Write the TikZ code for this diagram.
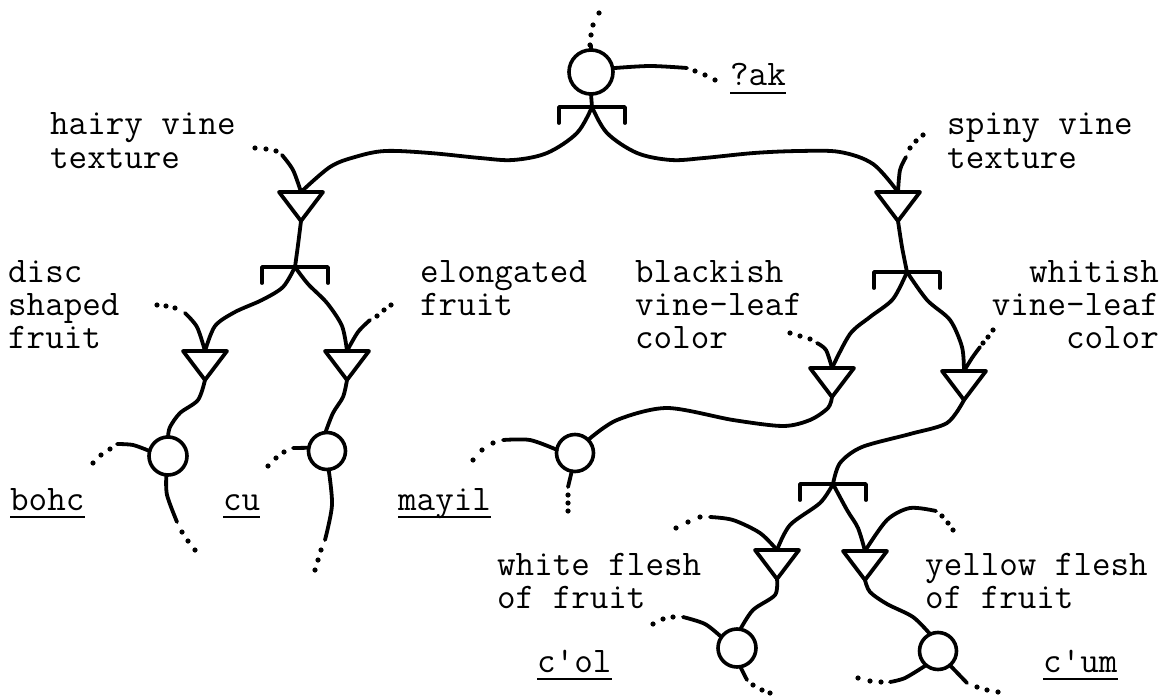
\documentclass[tikz,border=0pt]{standalone}
\usepackage{fontspec}
\newcommand\mktri[3]{%
  \coordinate (#1) at (#2,#3);
  \coordinate (#1a) at (#2,#3+29);
  \draw[ln] (#2-22,#3) -- (#2+22,#3) -- (#1a) -- cycle;
}
\newcommand\mkbr[3]{%
  \coordinate (#1) at (#2,#3);
  \draw[ln] (#2-33,#3+16) -- (#2-33,#3) -- (#2+33,#3) -- (#2+33,#3+16);
}
\newcommand\dts[1]{\foreach \dx/\dy in {#1} {\fill (\dx,\dy) circle (2.6pt);}}
\tikzset{
  ln/.style={line width=3.8pt, line cap=round, line join=round},
  circ/.style={circle, draw, line width=3.6pt, inner sep=0pt, outer sep=0pt},
  lbl/.style={anchor=base west, inner sep=0pt, font=\fontsize{36pt}{33pt}\selectfont\ttfamily\addfontfeature{FakeBold=0.6}},
  lblr/.style={lbl, anchor=base east},
  ul/.style={line width=2.6pt},
}
\begin{document}
\begin{tikzpicture}[x=1pt, y=-1pt]
\useasboundingbox (0,0) rectangle (1167,698);

% circles
\node[circ, minimum size=44pt] (c0) at (591,72) {};
\node[circ, minimum size=38pt] (c1) at (168,456) {};
\node[circ, minimum size=37pt] (c2) at (327,451) {};
\node[circ, minimum size=37pt] (c3) at (575,453) {};
\node[circ, minimum size=38pt] (c4) at (737,648) {};
\node[circ, minimum size=37pt] (c5) at (938,651) {};

% triangles
\mktri{t1}{301}{192}
\mktri{t2}{898}{192}
\mktri{t3}{205}{351}
\mktri{t4}{347}{351}
\mktri{t5}{832}{368}
\mktri{t6}{964}{371}
\mktri{t7}{777}{550}
\mktri{t8}{865}{551}

% brackets
\mkbr{b0}{592}{107}
\mkbr{b1}{295}{267}
\mkbr{b2}{907}{272}
\mkbr{b3}{833}{484}

% labels
\node[lbl] (ak) at (730,86) {?ak};
\node[lbl] (hv1) at (50,135) {hairy vine};
\node[lbl] (hv2) at (50,168) {texture};
\node[lbl] (sv1) at (947,135) {spiny vine};
\node[lbl] (sv2) at (947,168) {texture};
\node[lbl] (ds1) at (8,282) {disc};
\node[lbl] (ds2) at (8,315) {shaped};
\node[lbl] (ds3) at (8,348) {fruit};
\node[lbl] (el1) at (420,282) {elongated};
\node[lbl] (el2) at (420,315) {fruit};
\node[lbl] (bk1) at (635,282) {blackish};
\node[lbl] (bk2) at (635,315) {vine-leaf};
\node[lbl] (bk3) at (635,348) {color};
\node[lblr] (wh1) at (1159,282) {whitish};
\node[lblr] (wh2) at (1159,315) {vine-leaf};
\node[lblr] (wh3) at (1159,348) {color};
\node[lbl] (bohc) at (10,510) {bohc};
\node[lbl] (cu) at (223,510) {cu};
\node[lbl] (mayil) at (398,510) {mayil};
\node[lbl] (wf1) at (497,575) {white flesh};
\node[lbl] (wf2) at (497,608) {of fruit};
\node[lbl] (yf1) at (925,575) {yellow flesh};
\node[lbl] (yf2) at (925,608) {of fruit};
\node[lbl] (col) at (537,672) {c\textquotesingle ol};
\node[lbl] (cum) at (1043,672) {c\textquotesingle um};

% underlines
\foreach \n in {ak,bohc,cu,mayil,col,cum}
  \draw[ul] ([yshift=-7pt]\n.base west) -- ([yshift=-7pt]\n.base east);

% top of root
\draw[ln] (c0.north) -- ++(0,-4);
\dts{590/45, 591/35, 593/25, 599/13}
\draw[ln] plot[smooth] coordinates {(c0.10) (650,66) (687,68)};
\dts{695/71, 705/75, 715/80}
\draw[ln] (c0.south) -- (b0);

% main branches
\draw[ln] plot[smooth, tension=0.55] coordinates {(b0) (577,133) (547,153) (513,160) (480,158) (430,153) (385,151) (355,157) (330,167) (t1)};
\draw[ln] plot[smooth, tension=0.55] coordinates {(b0) (607,133) (637,153) (671,160) (704,158) (754,153) (799,151) (840,152) (873,164) (t2)};

% stubs of t1, t2
\draw[ln] plot[smooth] coordinates {(t1) (293,170) (282,155)};
\dts{276/151, 266/149, 255/148}
\draw[ln] plot[smooth] coordinates {(t2) (900,170) (906,157)};
\dts{910/148, 916/141, 923/135}

% left subtree
\draw[ln] plot[smooth] coordinates {(t1a) (298,245) (b1)};
\draw[ln] plot[smooth] coordinates {(b1) (283,287) (262,300) (235,312) (215,326) (t3)};
\draw[ln] plot[smooth] coordinates {(b1) (308,284) (327,303) (342,326) (t4)};
\draw[ln] plot[smooth] coordinates {(t3) (197,327) (185,313)};
\dts{175/308, 166/306, 157/305}
\draw[ln] plot[smooth] coordinates {(t4) (358,332) (370,320)};
\dts{377/316, 384/310, 391/305}
\draw[ln] plot[smooth] coordinates {(t3a) (198,400) (180,413) (170,427) (c1.north)};
\draw[ln] plot[smooth] coordinates {(t4a) (343,397) (333,413) (c2.95)};
\draw[ln] plot[smooth] coordinates {(c1.165) (133,445) (117,444)};
\dts{110/449, 101/455, 93/463}
\draw[ln] plot[smooth] coordinates {(c1.265) (167,495) (177,522)};
\dts{182/532, 188/541, 195/550}
\draw[ln] (c2.170) -- (293,448);
\dts{284/452, 276/458, 268/466}
\draw[ln] plot[smooth] coordinates {(c2.275) (332,505) (325,540)};
\dts{321/550, 318/560, 315/570}

% right subtree
\draw[ln] plot[smooth] coordinates {(t2a) (902,247) (b2)};
\draw[ln] plot[smooth] coordinates {(b2) (893,299) (870,317) (850,334) (t5)};
\draw[ln] plot[smooth] coordinates {(b2) (927,300) (950,320) (962,347) (t6)};
\draw[ln] plot[smooth] coordinates {(t5) (826,350) (817,343)};
\dts{810/339, 800/336, 790/333}
\draw[ln] plot[smooth] coordinates {(t6) (972,358) (980,347)};
\dts{983/343, 988/337, 993/330}
\draw[ln] plot[smooth] coordinates {(t5a) (828,408) (810,420) (783,426) (733,420) (667,408) (617,420) (c3.45)};
\draw[ln] plot[smooth] coordinates {(c3.170) (530,440) (503,440)};
\dts{493/443, 482/450, 473/460}
\draw[ln] (c3.260) -- (568,487);
\dts{568/495, 568/503, 568/511}
\draw[ln] plot[smooth] coordinates {(t6a) (947,423) (910,434) (862,447) (840,463) (b3)};
\draw[ln] plot[smooth] coordinates {(b3) (820,503) (790,525) (t7)};
\draw[ln] plot[smooth] coordinates {(b3) (847,510) (858,528) (t8)};
\draw[ln] plot[smooth] coordinates {(t7) (760,533) (733,520) (710,517)};
\dts{700/517, 688/522, 676/528}
\draw[ln] plot[smooth] coordinates {(t8) (887,520) (910,508) (936,511)};
\dts{942/516, 948/523, 953/530}
\draw[ln] plot[smooth] coordinates {(t7a) (775,595) (753,610) (c4.80)};
\draw[ln] plot[smooth] coordinates {(t8a) (870,592) (887,604) (913,617) (c5.115)};
\draw[ln] plot[smooth] coordinates {(c4.145) (705,624) (683,617)};
\dts{673/617, 663/619, 653/624}
\draw[ln] (c4.280) -- (747,680);
\dts{753/685, 762/690, 770/693}
\draw[ln] plot[smooth] coordinates {(c5.230) (905,678) (890,682)};
\dts{881/682, 870/681, 858/678}
\draw[ln] (c5.310) -- (967,683);
\dts{977/687, 987/690, 998/692}
\end{tikzpicture}
\end{document}
